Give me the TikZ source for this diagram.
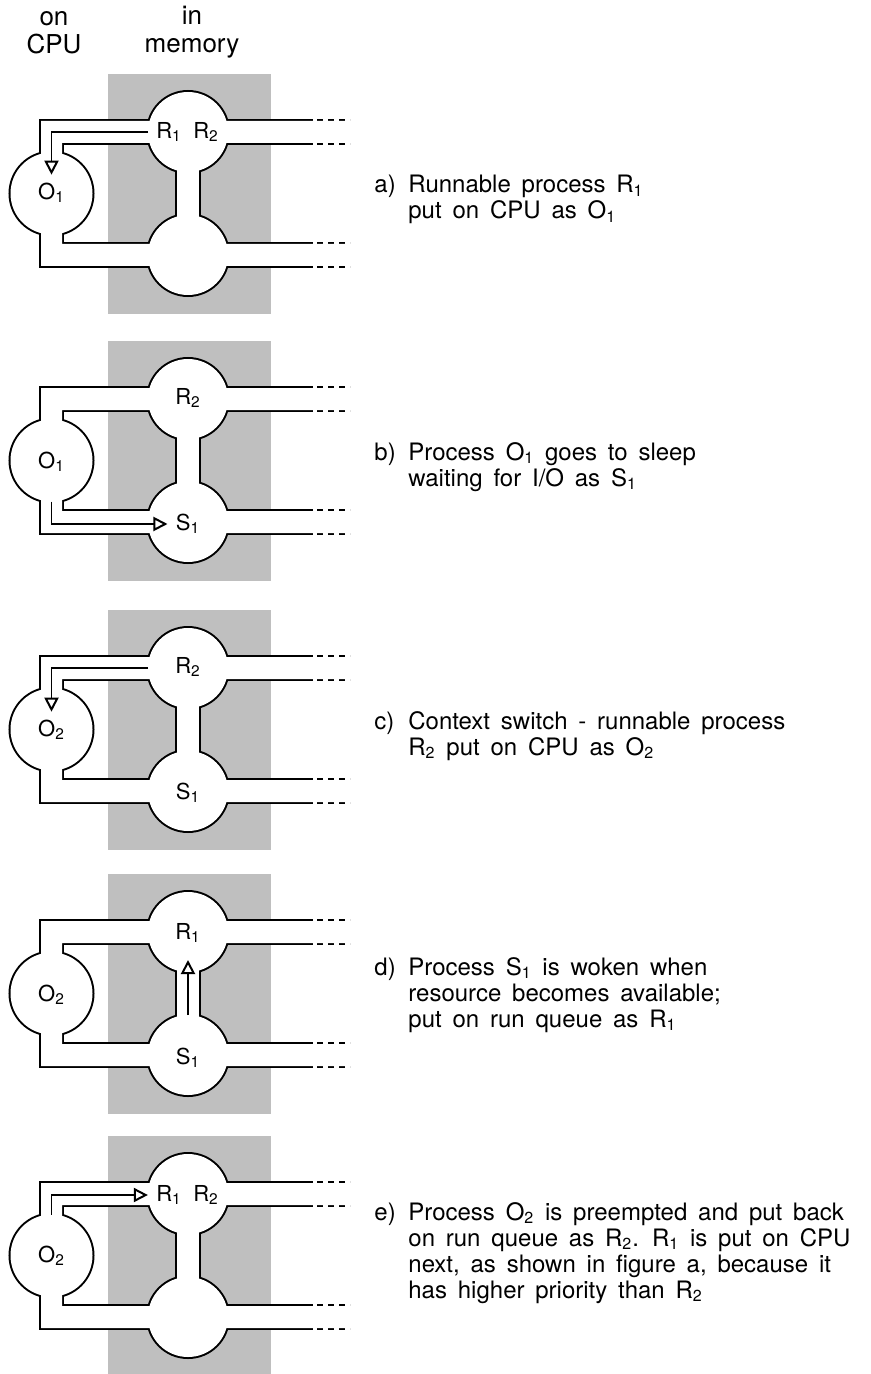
\documentclass[tikz,border=0pt]{standalone}
\usepackage{fontspec}
\setmainfont{TeX Gyre Heros}
\usetikzlibrary{arrows.meta}

\newcommand{\sub}[1]{\textsubscript{#1}}
\newcommand{\wide}{\spaceskip=0.45em\relax}

\begin{document}
\begin{tikzpicture}[
      x=0.5pt, y=-0.5pt,
      head/.style={font=\fontsize{13}{14}\selectfont, align=center, inner sep=0pt},
      proc/.style={font=\fontsize{11}{12}\selectfont, inner sep=4pt},
      caption/.style={font=\fontsize{12}{13}\selectfont, anchor=base west, inner sep=0pt},
      memory/.style={fill=black!25},
      wall/.style={draw=black, line width=2pt},
      tail/.style={dash pattern=on 3pt off 2.5pt},
      bubble/.style={circle, minimum size=40pt, inner sep=0pt, outer sep=0pt},
      cpu/.style={circle, minimum size=41pt, inner sep=0pt, outer sep=0pt},
      move/.style={-{Triangle[open, length=7pt, width=7pt, line width=1pt]},
        line width=0.55pt}
    ]
    \useasboundingbox (0,0) rectangle (871,1374);
    \clip (0,0) rectangle (871,1374);

    \node[head] (oncpu) at (54,32.5) {on\\CPU};
    \node[head] (inmem) at (192,32.5) {in\\memory};

    % pipes, one set per panel
    \foreach \p/\y in {a/121, b/388, c/657, d/921, e/1183} {
      \fill[memory] (108,\y-47) rectangle (271,\y+193);
      \draw[wall] (313,\y) -| (41,\y+145) -- (313,\y+145)
                  (313,\y+123) -| (62,\y+22) -- (313,\y+22)
                  (177,\y+11) rectangle (199,\y+134);
      \foreach \t in {0,22,123,145}
        \draw[wall, tail] (317,\y+\t) -- (350,\y+\t);
      \node[cpu, wall] (\p-cpu) at (51.5,\y+72.5) {};
      \node[bubble, wall] (\p-top) at (188,\y+11) {};
      \node[bubble, wall] (\p-bot) at (188,\y+134) {};
      % white inside
      \fill[white] (352,\y) -| (41,\y+145) -- (352,\y+145) -- (352,\y+123)
                   -| (62,\y+22) -- (352,\y+22) -- cycle;
      \fill[white] (177,\y+11) rectangle (199,\y+134);
      \fill[white] (\p-cpu) circle (41);
      \fill[white] (\p-top) circle (40);
      \fill[white] (\p-bot) circle (40);
    }

    % a)
    \node[proc] (a-R1) at (169,132) {R\sub1};
    \node[proc] (a-R2) at (206,132) {R\sub2};
    \node[proc] (a-O1) at (51.5,193) {O\sub1};
    \draw[move] (a-top.west) -| (a-O1.north);
    \node[caption] (a-text) at (374,193) {\wide\begin{tabular}[t]{@{}p{17pt}@{}l@{}}
      a) & Runnable process R\sub1\\ & put on CPU as O\sub1\end{tabular}};

    % b)
    \node[proc] (b-R2) at (188,398) {R\sub2};
    \node[proc] (b-O1) at (51.5,462) {O\sub1};
    \node[proc] (b-S1) at (188,524) {S\sub1};
    \draw[move] (b-cpu.south) |- (b-S1.west);
    \node[caption] (b-text) at (374,460) {\wide\begin{tabular}[t]{@{}p{17pt}@{}l@{}}
      b) & Process O\sub1 goes to sleep\\ & waiting for I/O as S\sub1\end{tabular}};

    % c)
    \node[proc] (c-R2) at (188,667) {R\sub2};
    \node[proc] (c-O2) at (51.5,730) {O\sub2};
    \node[proc] (c-S1) at (188,793) {S\sub1};
    \draw[move] (c-top.west) -| (c-O2.north);
    \node[caption] (c-text) at (374,729) {\wide\begin{tabular}[t]{@{}p{17pt}@{}l@{}}
      c) & Context switch - runnable process\\ & R\sub2 put on CPU as O\sub2\end{tabular}};

    % d)
    \node[proc] (d-R1) at (188,933) {R\sub1};
    \node[proc] (d-O2) at (51.5,995) {O\sub2};
    \node[proc] (d-S1) at (188,1058) {S\sub1};
    \draw[move, shorten >=-6pt] (d-bot.north) -- (d-top.south);
    \node[caption] (d-text) at (374,975) {\wide\begin{tabular}[t]{@{}p{17pt}@{}l@{}}
      d) & Process S\sub1 is woken when\\ & resource becomes available;\\
         & put on run queue as R\sub1\end{tabular}};

    % e)
    \node[proc] (e-R1) at (169,1195) {R\sub1};
    \node[proc] (e-R2) at (206,1195) {R\sub2};
    \node[proc] (e-O2) at (51.5,1256) {O\sub2};
    \draw[move] (e-cpu.north) |- (e-R1.west);
    \node[caption] (e-text) at (374,1220) {\wide\begin{tabular}[t]{@{}p{17pt}@{}l@{}}
      e) & Process O\sub2 is preempted and put back\\
         & on run queue as R\sub2. R\sub1 is put on CPU\\
         & next, as shown in figure a, because it\\
         & has higher priority than R\sub2\end{tabular}};
  \end{tikzpicture}
\end{document}
